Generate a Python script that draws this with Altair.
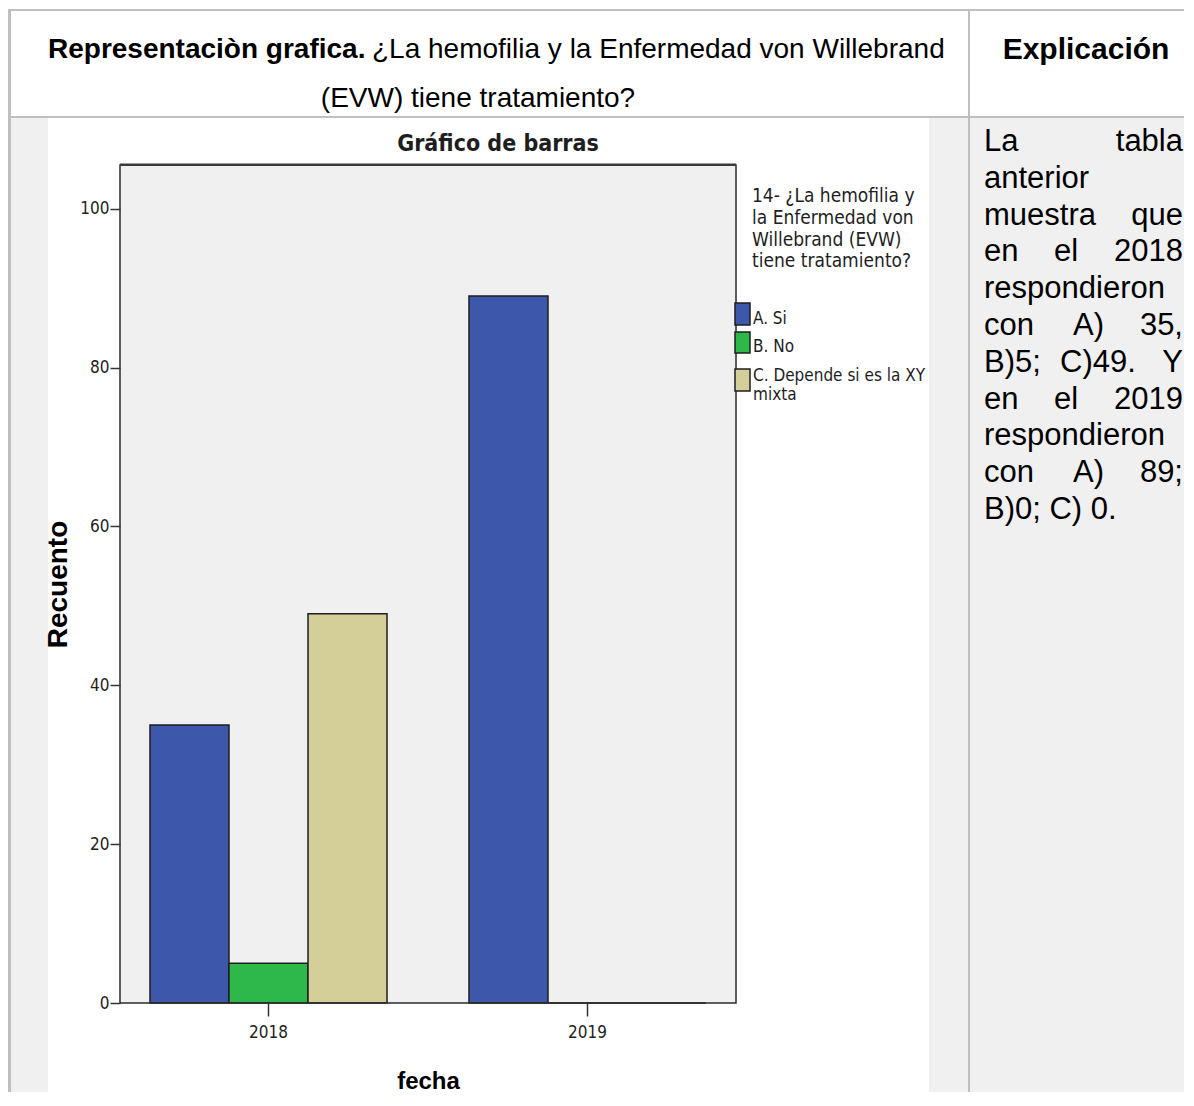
import altair as alt
import pandas as pd

# ---------------- data ----------------
years = ["2018", "2018", "2018", "2019", "2019", "2019"]
categories = ["A. Si", "B. No", "C. Depende si es la XY mixta",
              "A. Si", "B. No", "C. Depende si es la XY mixta"]
counts = [35, 5, 49, 89, 0, 0]
cat_domain = ["A. Si", "B. No", "C. Depende si es la XY mixta"]
cat_colors = ["#3d58ab", "#2fb84a", "#d4cf98"]
y_ticks = [0, 20, 40, 60, 80, 100]

header_bold = "Representaciòn grafica."
header_normal = "¿La hemofilia y la Enfermedad von Willebrand"
header_line2 = "(EVW) tiene tratamiento?"
header_right = "Explicación"
chart_title = "Gráfico de barras"
legend_title = ["14- ¿La hemofilia y", "la Enfermedad von",
                "Willebrand (EVW)", "tiene tratamiento?"]
legend_labels = ["A. Si", "B. No", "C. Depende si es la XY", "mixta"]

# explanation text, line by line (justified words)
expl_lines = [
    ["La", "tabla"],
    ["anterior"],
    ["muestra", "que"],
    ["en", "el", "2018"],
    ["respondieron"],
    ["con", "A)", "35,"],
    ["B)5;", "C)49.", "Y"],
    ["en", "el", "2019"],
    ["respondieron"],
    ["con", "A)", "89;"],
    ["B)0; C) 0."],
]

df = pd.DataFrame({"fecha": years, "categoria": categories, "recuento": counts})
one = pd.DataFrame({"k": [0]})

SANS = "Liberation Sans, Arial, sans-serif"
NARROW = "DejaVu Sans Condensed, sans-serif"
GRID = "#bfbfbf"
INK = "#1e1e1e"

W, H = 616, 838  # plot area


def box(x, x2, y, y2, **kw):
    return alt.Chart(one).mark_rect(**kw).encode(
        x=alt.value(x), x2=alt.value(x2), y=alt.value(y), y2=alt.value(y2))


def label(txt, x, y, **kw):
    return alt.Chart(one).mark_text(**kw).encode(
        x=alt.value(x), y=alt.value(y), text=alt.value(txt))


layers = []
# page / table decoration (plot origin is at page (120,165))
layers.append(box(-112, 1066, -157, -49, color="white"))        # header row
layers.append(box(-72, 809, -47, 931, color="white"))           # chart image
layers.append(box(0, W, 0, H, color="#f0f0f0"))                 # plot background
layers.append(box(-112, 1066, -156, -154, color=GRID))          # top border
layers.append(box(-112, 1066, -49, -47, color=GRID))            # header bottom
layers.append(box(-112, -109, -156, 940, color=GRID))           # left border
layers.append(box(848, 850, -156, 940, color=GRID))             # column divider

# header texts
layers.append(label(header_bold, -72, -107, align="left", baseline="alphabetic",
                    font=SANS, fontSize=28, fontWeight="bold", color="black"))
layers.append(label(header_normal, 252, -107, align="left", baseline="alphabetic",
                    font=SANS, fontSize=28, color="black"))
layers.append(label(header_line2, 358, -58, align="center", baseline="alphabetic",
                    font=SANS, fontSize=28, color="black"))
layers.append(label(header_right, 966, -106, align="center", baseline="alphabetic",
                    font=SANS, fontSize=30, fontWeight="bold", color="black"))

# explanation column (justified)
LX, RX = 864, 1063
mid_x = {("en", "el"): 934, ("con", "A)"): 953, ("B)5;", "C)49."): 940}
for i, words in enumerate(expl_lines):
    yb = -14 + 36.8 * i
    layers.append(label(words[0], LX, yb, align="left", baseline="alphabetic",
                        font=SANS, fontSize=31, color="black"))
    if len(words) >= 2:
        layers.append(label(words[-1], RX, yb, align="right", baseline="alphabetic",
                            font=SANS, fontSize=31, color="black"))
    if len(words) == 3:
        layers.append(label(words[1], mid_x[(words[0], words[1])], yb, align="left",
                            baseline="alphabetic", font=SANS, fontSize=31, color="black"))

# chart title
layers.append(label(chart_title, 378, -14, align="center", baseline="alphabetic",
                    font=NARROW, fontSize=23, fontWeight="bold", color=INK))

color_scale = alt.Scale(domain=cat_domain, range=cat_colors)

bars = alt.Chart(df).mark_bar(stroke=INK, strokeWidth=1.5).encode(
    x=alt.X("fecha:N", title="fecha",
            scale=alt.Scale(paddingInner=0.257, paddingOuter=0.094),
            axis=alt.Axis(labelAngle=0, domain=False, ticks=True, tickSize=13,
                          tickColor="#333333", tickWidth=1.5, labelPadding=8,
                          labelFont=NARROW, labelFontSize=17, labelColor=INK,
                          titleFont=SANS, titleFontSize=24, titleFontWeight="bold",
                          titleColor="black", titleX=308, titleY=85,
                          titleBaseline="alphabetic", titleAlign="center", zindex=1)),
    xOffset=alt.XOffset("categoria:N",
                        scale=alt.Scale(domain=cat_domain, paddingInner=0, paddingOuter=0)),
    y=alt.Y("recuento:Q", title="Recuento",
            scale=alt.Scale(domain=[0, 105.5], nice=False),
            axis=alt.Axis(values=y_ticks, domain=False, grid=False, tickSize=10,
                          tickColor="#333333", tickWidth=1.5, labelPadding=1,
                          labelFont=NARROW, labelFontSize=17, labelColor=INK,
                          titleFont=SANS, titleFontSize=28, titleFontWeight="bold",
                          titleColor="black", titleAngle=270, titleX=-54, titleY=419,
                          titleBaseline="alphabetic", titleAlign="center", zindex=1)),
    color=alt.Color("categoria:N", scale=color_scale, legend=None),
)
layers.append(bars)

# plot frame
layers.append(box(0, W, 0, H, fillOpacity=0, stroke="#2b2b2b", strokeWidth=1.5))
layers.append(box(0, W, -1.5, 1, color="#3a3a3a"))

# manual legend
layers.append(label(legend_title, 632, 37, align="left", baseline="alphabetic",
                    font=NARROW, fontSize=19, lineHeight=21.8, color=INK))
sw_y = [(138, 160), (167, 188), (204, 226)]
for cat, (y1, y2) in zip(cat_domain, sw_y):
    sw = alt.Chart(df).transform_filter(
        (alt.datum.categoria == cat) & (alt.datum.fecha == "2018")
    ).mark_rect(stroke=INK, strokeWidth=1.5).encode(
        x=alt.value(615), x2=alt.value(630), y=alt.value(y1), y2=alt.value(y2),
        color=alt.Color("categoria:N", scale=color_scale, legend=None))
    layers.append(sw)
for txt, yb in zip(legend_labels, [159, 187, 216, 235]):
    layers.append(label(txt, 633, yb, align="left", baseline="alphabetic",
                        font=NARROW, fontSize=17, color=INK))

chart = alt.layer(*layers).properties(
    width=W, height=H,
    autosize=alt.AutoSizeParams(type="none"),
    padding={"left": 112, "top": 157, "right": 448, "bottom": 89},
).configure(background="#f0f0f0").configure_view(stroke=None)

chart.save("out.html", embed_options={"renderer": "svg", "actions": False})
